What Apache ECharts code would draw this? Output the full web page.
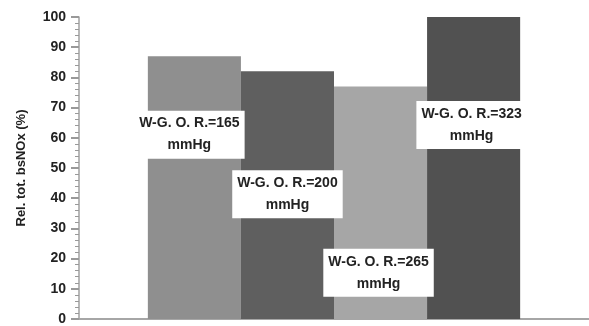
<!DOCTYPE html>
<html>
<head>
<meta charset="utf-8">
<script src="https://cdn.jsdelivr.net/npm/echarts@6/dist/echarts.min.js"></script>
<style>html,body{margin:0;padding:0;background:#fff}#c{width:589px;height:326px}</style>
</head>
<body>
<div id="c"></div>
<script>
const categories = [''];
const seriesNames = ['W-G. O. R.=165\nmmHg', 'W-G. O. R.=200\nmmHg', 'W-G. O. R.=265\nmmHg', 'W-G. O. R.=323\nmmHg'];
const values = [87, 82, 77, 100];
const colors = ['#8f8f8f', '#5f5f5f', '#a6a6a6', '#515151'];
const labelOffsets = [[-5, -53], [0, -1], [-2, 70], [-2, -43]];
const yTicks = [0, 10, 20, 30, 40, 50, 60, 70, 80, 90, 100];

const chart = echarts.init(document.getElementById('c'), null, {renderer: 'canvas'});
const font = 'Liberation Sans';
const tickColor = '#999999';
chart.setOption({
  animation: false,
  grid: {left: 79, right: -2, top: 17, bottom: 4, containLabel: false},
  xAxis: {
    type: 'category', data: categories,
    axisLine: {lineStyle: {color: '#a6a6a6', width: 2}},
    axisTick: {show: false}, axisLabel: {show: false}
  },
  yAxis: {
    type: 'value', min: yTicks[0], max: yTicks[yTicks.length - 1], interval: 10,
    name: 'Rel. tot. bsNOx (%)', nameLocation: 'middle', nameGap: 51,
    nameTextStyle: {fontFamily: font, fontWeight: 'bold', fontSize: 13, color: '#222'},
    axisLine: {show: true, lineStyle: {color: '#a0a0a0', width: 1.5}},
    axisTick: {show: true, length: 8, lineStyle: {color: tickColor, width: 2}},
    minorTick: {show: true, splitNumber: 5, length: 4, lineStyle: {color: tickColor, width: 1}},
    axisLabel: {margin: 13, fontFamily: font, fontWeight: 'bold', fontSize: 14, color: '#222'},
    splitLine: {show: false}
  },
  series: values.map((v, i) => ({
    type: 'bar', name: seriesNames[i], data: [v],
    barGap: '0%', barCategoryGap: '27%',
    itemStyle: {color: colors[i]},
    label: {
      show: true, position: 'inside', offset: labelOffsets[i],
      formatter: seriesNames[i],
      fontFamily: font, fontWeight: 'bold', fontSize: 14, color: '#222',
      lineHeight: 22, backgroundColor: '#fff', padding: [2, 5]
    }
  }))
});
</script>
</body>
</html>
